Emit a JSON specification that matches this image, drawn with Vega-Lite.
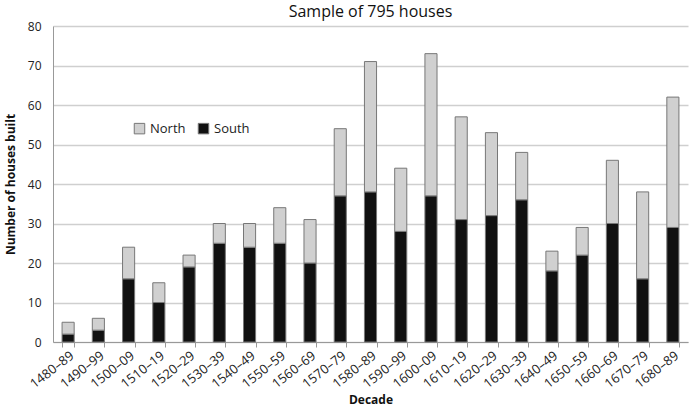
{
  "$schema": "https://vega.github.io/schema/vega-lite/v6.json",
  "width": 692,
  "height": 408,
  "autosize": {"type": "fit", "contains": "padding"},
  "padding": {"left": 4, "right": 4, "top": 4, "bottom": 2},
  "config": {
    "font": "Open Sans",
    "view": {"stroke": null},
    "axis": {"labelColor": "#222", "titleColor": "#111", "labelFontSize": 11}
  },
  "title": {"text": "Sample of 795 houses", "fontSize": 16, "fontWeight": "normal", "color": "#111", "offset": 0, "baseline": "top"},
  "data": {
    "values": [
      {"decade": "1480–89", "South": 2, "North": 3},
      {"decade": "1490–99", "South": 3, "North": 3},
      {"decade": "1500–09", "South": 16, "North": 8},
      {"decade": "1510–19", "South": 10, "North": 5},
      {"decade": "1520–29", "South": 19, "North": 3},
      {"decade": "1530–39", "South": 25, "North": 5},
      {"decade": "1540–49", "South": 24, "North": 6},
      {"decade": "1550–59", "South": 25, "North": 9},
      {"decade": "1560–69", "South": 20, "North": 11},
      {"decade": "1570–79", "South": 37, "North": 17},
      {"decade": "1580–89", "South": 38, "North": 33},
      {"decade": "1590–99", "South": 28, "North": 16},
      {"decade": "1600–09", "South": 37, "North": 36},
      {"decade": "1610–19", "South": 31, "North": 26},
      {"decade": "1620–29", "South": 32, "North": 21},
      {"decade": "1630–39", "South": 36, "North": 12},
      {"decade": "1640–49", "South": 18, "North": 5},
      {"decade": "1650–59", "South": 22, "North": 7},
      {"decade": "1660–69", "South": 30, "North": 16},
      {"decade": "1670–79", "South": 16, "North": 22},
      {"decade": "1680–89", "South": 29, "North": 33}
    ]
  },
  "transform": [
    {"fold": ["South", "North"], "as": ["region", "count"]},
    {"calculate": "datum.region === 'South' ? 0 : 1", "as": "stackOrder"}
  ],
  "mark": {"type": "bar", "stroke": "#777", "strokeWidth": 1},
  "encoding": {
    "x": {
      "field": "decade",
      "type": "nominal",
      "sort": null,
      "title": "Decade",
      "scale": {"paddingInner": 0.6, "paddingOuter": 0.3},
      "axis": {
        "labelAngle": -38,
        "labelAlign": "right",
        "labelBaseline": "top",
        "labelPadding": 2,
        "labelFontSize": 13,
        "labelDx": 6,
        "tickBand": "extent",
        "tickColor": "#999",
        "domainColor": "#999",
        "tickSize": 5,
        "titleFontSize": 12,
        "titleFontWeight": "bold",
        "titlePadding": 4
      }
    },
    "y": {
      "field": "count",
      "type": "quantitative",
      "stack": "zero",
      "title": "Number of houses built",
      "scale": {"domain": [0, 80]},
      "axis": {
        "values": [0, 10, 20, 30, 40, 50, 60, 70, 80],
        "gridColor": "#cfcfcf",
        "gridWidth": 1.5,
        "domainColor": "#999",
        "ticks": false,
        "labelPadding": 12,
        "labelFontSize": 12,
        "titleFontSize": 12,
        "titleFontWeight": "bold",
        "titlePadding": 10
      }
    },
    "color": {
      "field": "region",
      "type": "nominal",
      "scale": {"domain": ["North", "South"], "range": ["#d0d0d0", "#111111"]},
      "legend": {
        "title": null,
        "orient": "none",
        "legendX": 80,
        "legendY": 96,
        "direction": "horizontal",
        "symbolType": "square",
        "symbolSize": 110,
        "symbolStrokeColor": "#777",
        "symbolStrokeWidth": 1,
        "labelFontSize": 13,
        "labelColor": "#222",
        "columnPadding": 10
      }
    },
    "order": {"field": "stackOrder", "type": "quantitative"}
  }
}
